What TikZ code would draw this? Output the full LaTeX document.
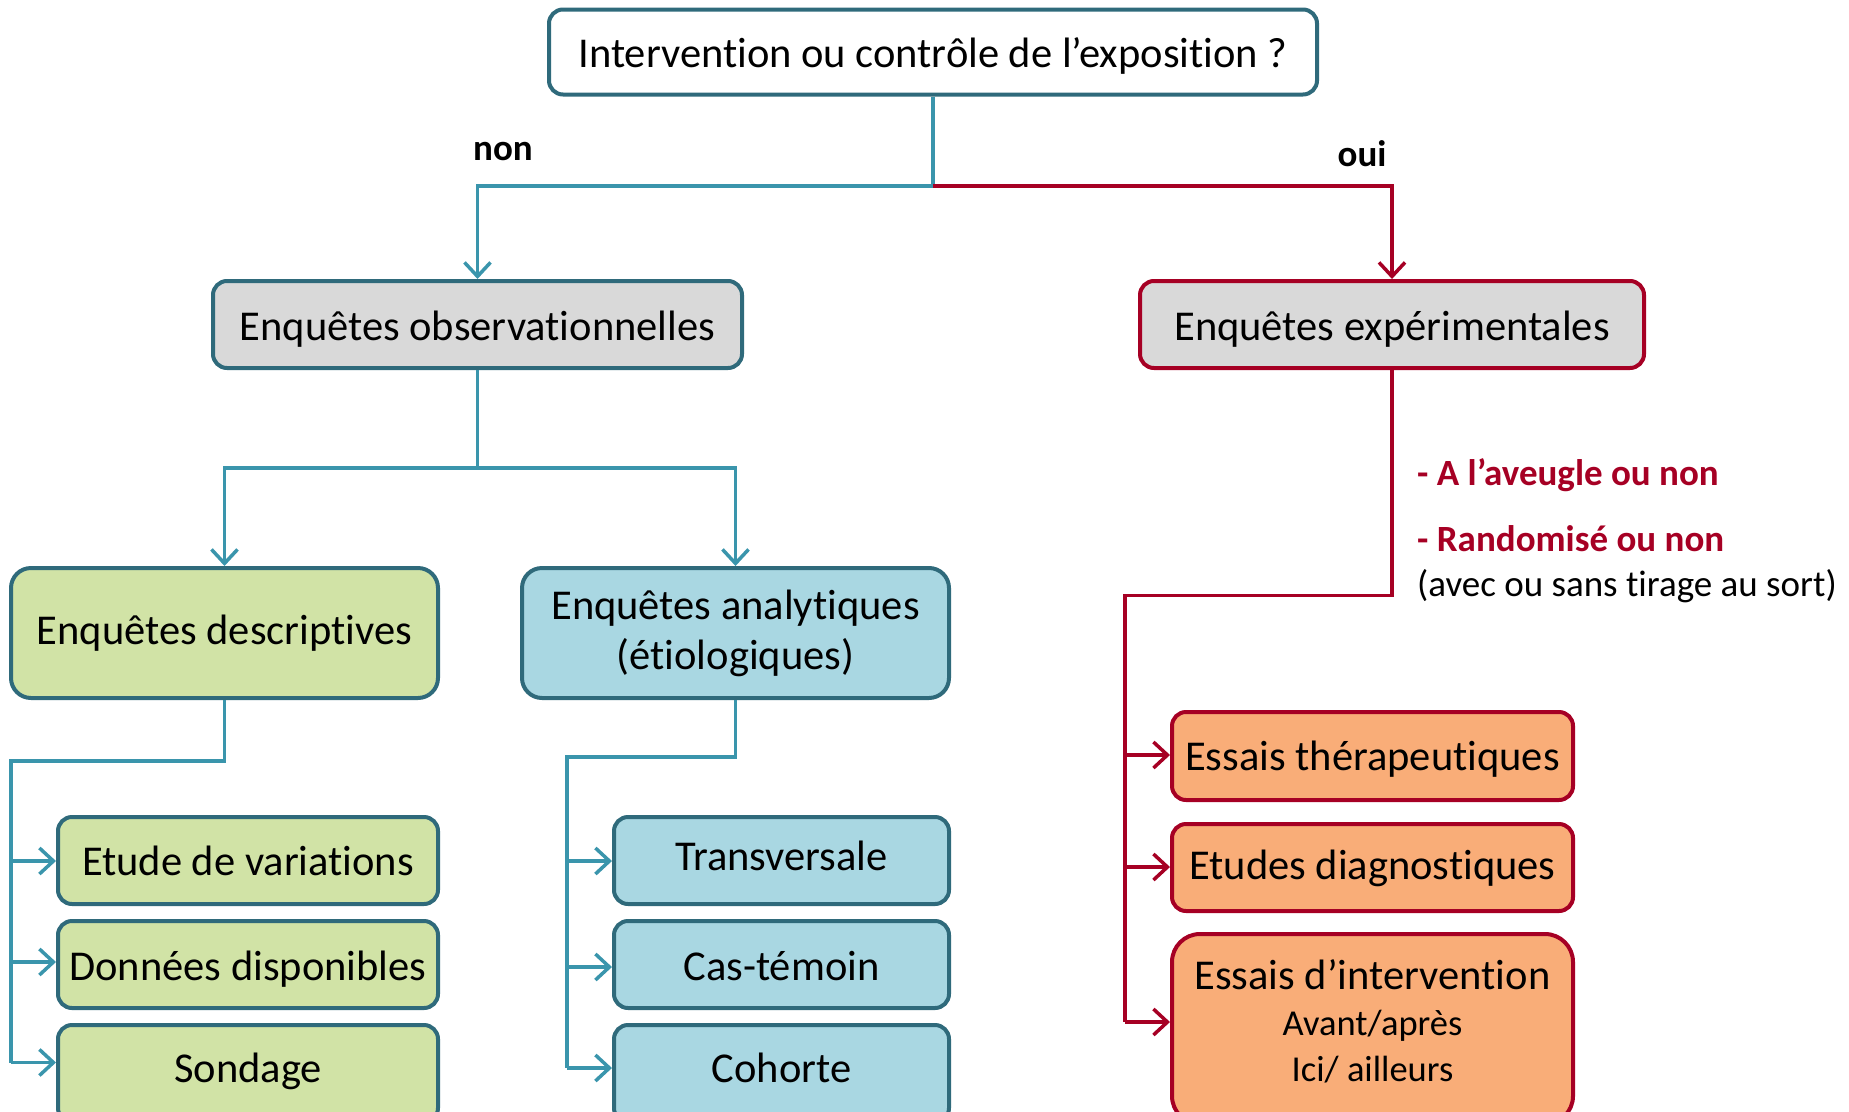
\documentclass[tikz,border=0pt]{standalone}
\usepackage{fontspec}
\setmainfont{Carlito}[Ligatures=NoCommon]
\usetikzlibrary{arrows.meta}
\definecolor{tealline}{RGB}{58,149,172}
\definecolor{tealborder}{RGB}{47,106,123}
\definecolor{redline}{RGB}{166,0,36}
\definecolor{grayfill}{RGB}{217,217,217}
\definecolor{greenfill}{RGB}{209,227,166}
\definecolor{bluefill}{RGB}{169,215,226}
\definecolor{orangefill}{RGB}{249,173,120}
\tikzset{
  box/.style={rounded corners=14pt, line width=4pt, inner sep=0pt, align=center,
    font=\fontsize{42.5}{51}\selectfont, text height=30.6pt, text depth=9.35pt},
  tbox/.style={box, draw=tealborder},
  rbox/.style={box, draw=redline},
  tline/.style={draw=tealline, line width=3.5pt},
  rline/.style={draw=redline, line width=3.5pt},
  tip/.style={-{Straight Barb[length=14pt,width=26pt,line width=3.5pt]}},
  lbl/.style={font=\fontsize{37}{44}\selectfont\bfseries, inner sep=0pt},
}
\begin{document}
\begin{tikzpicture}[x=1pt,y=-1pt]
\useasboundingbox (0,0) rectangle (1849,1111);
\clip (0,0) rectangle (1849,1111);
% boxes
\node[tbox, fill=white, minimum width=768, minimum height=85] (top) at (933,52) {\raisebox{-5pt}{Intervention ou contrôle de l’exposition ?}};
\node[tbox, fill=grayfill, minimum width=529, minimum height=87] (obs) at (477.5,324.5) {\raisebox{-5pt}{Enquêtes observationnelles}};
\node[rbox, fill=grayfill, minimum width=504, minimum height=87] (exp) at (1392,324.5) {\raisebox{-5pt}{Enquêtes expérimentales}};
\node[tbox, fill=greenfill, minimum width=427, minimum height=130, rounded corners=20pt] (desc) at (224.5,633) {\raisebox{-1pt}{Enquêtes descriptives}};
\node[tbox, fill=bluefill, minimum width=427, minimum height=130, rounded corners=20pt] (anal) at (735.5,633) {\raisebox{3.5pt}{\begin{tabular}{@{}c@{}}Enquêtes analytiques\\[-1pt](étiologiques)\end{tabular}}};
% descriptive children
\node[tbox, fill=greenfill, minimum width=380, minimum height=87] (etude) at (248,860.5) {\raisebox{-4pt}{Etude de variations}};
\node[tbox, fill=greenfill, minimum width=380, minimum height=87] (donn) at (248,964.5) {\raisebox{-5pt}{Données disponibles}};
\node[tbox, fill=greenfill, minimum width=380, minimum height=97] (sond) at (248,1073.5) {\raisebox{2pt}{Sondage}};
% analytic children
\node[tbox, fill=bluefill, minimum width=335, minimum height=87] (trans) at (781.5,860.5) {\raisebox{0.5pt}{Transversale}};
\node[tbox, fill=bluefill, minimum width=335, minimum height=87] (cas) at (781.5,964.5) {\raisebox{-5.5pt}{Cas-témoin}};
\node[tbox, fill=bluefill, minimum width=335, minimum height=97] (coh) at (781.5,1073.5) {\raisebox{1.5pt}{Cohorte}};
% experimental children
\node[rbox, fill=orangefill, minimum width=401, minimum height=88] (ther) at (1372.5,756) {\raisebox{-3.5pt}{Essais thérapeutiques}};
\node[rbox, fill=orangefill, minimum width=401, minimum height=87] (diag) at (1372.5,867.5) {\raisebox{-1pt}{Etudes diagnostiques}};
\node[rbox, fill=orangefill, minimum width=401, minimum height=190, rounded corners=28pt] (inter) at (1372.5,1029) {\raisebox{8.5pt}{\begin{tabular}{@{}c@{}}Essais d’intervention\\[-5pt]{\fontsize{36.5}{44}\selectfont Avant/après}\\[-5pt]{\fontsize{36.5}{44}\selectfont Ici/ ailleurs}\end{tabular}}};
% labels
\node[lbl] (non) at (503,151.5) {non};
\node[lbl] (oui) at (1362,154) {oui};
\node[lbl, text=redline, anchor=west] (aveugle) at (1417,475) {- A l’aveugle ou non};
\node[lbl, text=redline, anchor=west] (rando) at (1417,539) {- Randomisé ou non};
\node[font=\fontsize{37}{44}\selectfont, inner sep=0pt, anchor=west] (tirage) at (1417,586) {(avec ou sans tirage au sort)};
% junction coordinates
\coordinate (j0) at (933,186);
\coordinate (j1) at (477.5,468);
\coordinate (j2) at (224.5,761);
\coordinate (j2b) at (11,761);
\coordinate (r1) at (11,861);
\coordinate (r2) at (11,962);
\coordinate (r3) at (11,1062.5);
\coordinate (j3) at (735.5,757);
\coordinate (j3b) at (567,757);
\coordinate (s1) at (567,861);
\coordinate (s2) at (567,967);
\coordinate (s3) at (567,1068);
\coordinate (j4) at (1392,595.5);
\coordinate (j4b) at (1125,595.5);
\coordinate (e1) at (1125,755);
\coordinate (e2) at (1125,867);
\coordinate (e3) at (1125,1022);
% connectors
\draw[tline] (top.south) -- (j0);
\draw[tline, tip] (j0) -| (obs.north);
\draw[rline, tip] (j0) -| (exp.north);
\draw[tline] (obs.south) -- (j1);
\draw[tline, tip] (j1) -| (desc.north);
\draw[tline, tip] (j1) -| (anal.north);
\draw[tline] (desc.south) -- (j2) -- (j2b) -- (r3);
\draw[tline, tip] (r1) -- (r1 -| etude.west);
\draw[tline, tip] (r2) -- (r2 -| donn.west);
\draw[tline, tip] (r3) -- (r3 -| sond.west);
\draw[tline] (anal.south) -- (j3) -- (j3b) -- (s3);
\draw[tline, tip] (s1) -- (s1 -| trans.west);
\draw[tline, tip] (s2) -- (s2 -| cas.west);
\draw[tline, tip] (s3) -- (s3 -| coh.west);
\draw[rline] (exp.south) -- (j4) -- (j4b) -- (e3);
\draw[rline, tip] (e1) -- (e1 -| ther.west);
\draw[rline, tip] (e2) -- (e2 -| diag.west);
\draw[rline, tip] (e3) -- (e3 -| inter.west);
\end{tikzpicture}
\end{document}
